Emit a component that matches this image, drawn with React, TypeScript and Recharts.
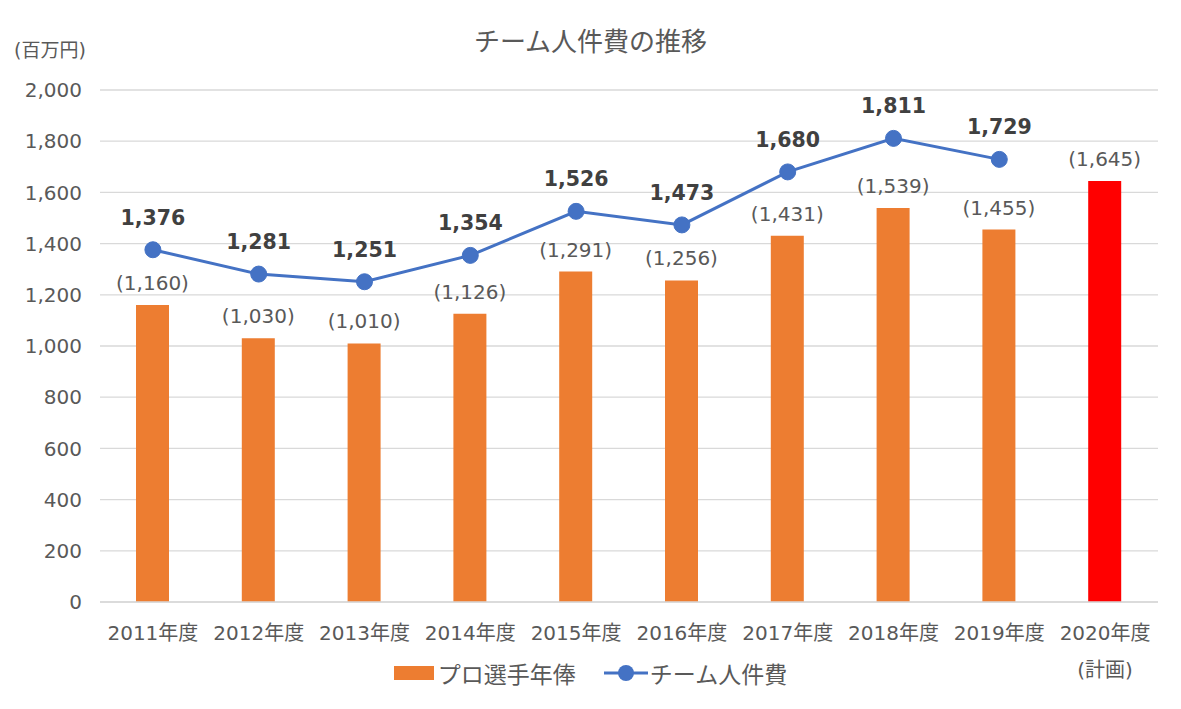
import React from 'react';
import { ComposedChart, Bar, Line, XAxis, YAxis, CartesianGrid, LabelList, Cell } from 'recharts';

const categories = ['2011年度', '2012年度', '2013年度', '2014年度', '2015年度', '2016年度', '2017年度', '2018年度', '2019年度', '2020年度'];
const subLabels = ['', '', '', '', '', '', '', '', '', '(計画)'];
const salaryValues = [1160, 1030, 1010, 1126, 1291, 1256, 1431, 1539, 1455, 1645];
const teamCostValues: (number | null)[] = [1376, 1281, 1251, 1354, 1526, 1473, 1680, 1811, 1729, null];
const yTicks = [0, 200, 400, 600, 800, 1000, 1200, 1400, 1600, 1800, 2000];

const data = categories.map((c, i) => ({ name: c, sub: subLabels[i], salary: salaryValues[i], team: teamCostValues[i] }));

const FONT = '"DejaVu Sans", "Noto Sans CJK JP", sans-serif';
const fmt = (v: number) => v.toLocaleString('en-US');

const XTick = (props: any) => {
  const { x, y, payload, index } = props;
  const sub = subLabels[index];
  return (
    <g>
      <text x={x} y={y + 23} textAnchor="middle" dominantBaseline="central" fill="#595959" fontSize={20} fontFamily={FONT}>{payload.value}</text>
      {sub ? <text x={x} y={y + 60} textAnchor="middle" dominantBaseline="central" fill="#595959" fontSize={20} fontFamily={FONT}>{sub}</text> : null}
    </g>
  );
};

export default function App() {
  return (
    <div style={{ position: 'absolute', left: 0, top: 0, width: 1181, height: 709, background: '#fff', fontFamily: FONT }}>
      <div style={{ position: 'absolute', left: 0, top: 26, width: 1181, textAlign: 'center', fontSize: 26, lineHeight: '32px', color: '#595959' }}>チーム人件費の推移</div>
      <div style={{ position: 'absolute', left: 14, top: 38, fontSize: 19, lineHeight: '24px', color: '#595959' }}>(百万円)</div>
      <ComposedChart width={1181} height={709} data={data} margin={{ top: 90, right: 23, left: 0, bottom: 0 }}>
        <CartesianGrid vertical={false} stroke="#d9d9d9" strokeWidth={1.3} />
        <XAxis dataKey="name" height={107} tickLine={false} axisLine={{ stroke: '#d9d9d9', strokeWidth: 1.3 }} tick={<XTick />} interval={0} />
        <YAxis width={100} domain={[0, 2000]} ticks={yTicks} tickLine={false} axisLine={false} tickSize={0} tickMargin={18}
          tickFormatter={fmt} tick={{ fill: '#595959', fontSize: 20, fontFamily: FONT }} />
        <Bar dataKey="salary" barSize={33} isAnimationActive={false}>
          {data.map((d, i) => (
            <Cell key={i} fill={i === data.length - 1 ? '#FF0000' : '#ED7D31'} />
          ))}
          <LabelList dataKey="salary" position="top" offset={15} formatter={(v: any) => `(${fmt(v)})`}
            style={{ fill: '#595959', fontSize: 20, fontFamily: FONT }} />
        </Bar>
        <Line dataKey="team" stroke="#4472C4" strokeWidth={3} isAnimationActive={false}
          dot={{ r: 8, fill: '#4472C4', stroke: '#4472C4', strokeWidth: 1 }} activeDot={false}>
          <LabelList dataKey="team" position="top" offset={25} formatter={(v: any) => (v == null ? '' : fmt(v))}
            style={{ fill: '#404040', fontSize: 20.5, fontWeight: 700, fontFamily: FONT }} />
        </Line>
      </ComposedChart>
      <div style={{ position: 'absolute', left: 0, top: 658, width: 1181, height: 30, display: 'flex', justifyContent: 'center', alignItems: 'center', fontSize: 23, color: '#595959' }}>
        <div style={{ display: 'flex', alignItems: 'center' }}>
          <span style={{ display: 'inline-block', width: 40, height: 14, background: '#ED7D31', marginRight: 4 }} />
          <span>プロ選手年俸</span>
        </div>
        <div style={{ display: 'flex', alignItems: 'center', marginLeft: 28 }}>
          <svg width={44} height={20} style={{ marginRight: 2 }}>
            <line x1={0} y1={10} x2={44} y2={10} stroke="#4472C4" strokeWidth={3} />
            <circle cx={22} cy={10} r={8} fill="#4472C4" />
          </svg>
          <span>チーム人件費</span>
        </div>
      </div>
    </div>
  );
}
